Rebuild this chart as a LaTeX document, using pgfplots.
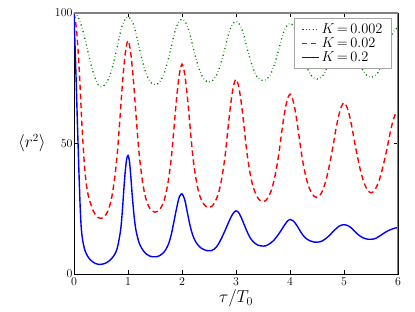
\documentclass[border=0pt]{standalone}
\usepackage{pgfplots}
\usepackage{pgfplotstable}
\pgfplotsset{compat=1.18}

\pgfplotstableread{
t g r
0 100 100
0.05 99.3 93
0.1 97.3 77
0.15 94.2 56
0.2 90.3 40
0.25 85.9 31.5
0.3 81.5 27.5
0.35 77.6 24.5
0.4 74.5 22.6
0.45 72.5 21.6
0.5 71.8 21.3
0.55 72.1 21.7
0.6 73.3 23.0
0.65 75.3 25.4
0.7 78.5 29.5
0.75 82.5 36.3
0.8 87.0 45.8
0.85 91.8 59.4
0.9 95.6 73.7
0.95 97.7 84.6
1.0 98.5 89.4
1.05 97.7 84.8
1.1 95.7 74.3
1.15 92.0 60.5
1.2 87.4 47.4
1.25 83.0 38.2
1.3 79.1 31.6
1.35 76.0 27.6
1.4 74.0 25.3
1.45 72.9 24.1
1.5 72.6 23.7
1.55 72.9 24.0
1.6 74.0 25.1
1.65 75.9 27.1
1.7 78.9 30.5
1.75 82.6 36.2
1.8 86.9 44.1
1.85 91.4 55.5
1.9 94.9 67.4
1.95 96.9 76.4
2.0 97.6 80.4
2.05 96.9 76.6
2.1 95.0 67.8
2.15 91.6 56.2
2.2 87.3 45.3
2.25 83.2 37.6
2.3 79.6 32.1
2.35 76.7 28.8
2.4 74.9 26.9
2.45 73.9 25.8
2.5 73.6 25.5
2.55 73.9 25.9
2.6 74.9 27.2
2.65 76.6 29.4
2.7 79.4 32.9
2.75 82.9 38.3
2.8 86.8 45.6
2.85 91.0 55.5
2.9 94.2 64.8
2.95 96.1 71.7
3.0 96.8 74.6
3.05 96.1 71.8
3.1 94.3 65.2
3.15 91.1 56.3
3.2 87.0 46.9
3.25 83.2 39.9
3.3 79.8 34.7
3.35 77.1 31.5
3.4 75.3 29.3
3.45 74.4 28.1
3.5 74.1 27.7
3.55 74.4 28.1
3.6 75.3 29.6
3.65 76.9 31.8
3.7 79.6 35.5
3.75 82.9 40.5
3.8 86.6 47.1
3.85 90.5 54.9
3.9 93.6 61.9
3.95 95.3 66.8
4.0 96.0 68.9
4.05 95.4 66.9
4.1 93.7 62.2
4.15 90.7 55.4
4.2 86.8 47.9
4.25 83.2 41.6
4.3 80.0 36.8
4.35 77.5 33.3
4.4 75.9 31.1
4.45 75.0 29.7
4.5 74.7 29.3
4.55 75.0 30.0
4.6 75.8 31.8
4.65 77.4 34.7
4.7 79.8 38.7
4.75 82.9 43.8
4.8 86.4 49.3
4.85 90.1 55.4
4.9 92.9 60.5
4.95 94.6 64.1
5.0 95.2 65.6
5.05 94.6 64.2
5.1 93.0 60.8
5.15 90.3 55.9
5.2 86.7 50.1
5.25 83.3 44.9
5.3 80.4 40.1
5.35 78.0 36.3
5.4 76.5 33.5
5.45 75.6 31.8
5.5 75.4 31.1
5.55 75.6 31.7
5.6 76.4 33.3
5.65 77.9 35.8
5.7 80.1 39.3
5.75 83.0 43.7
5.8 86.2 48.4
5.85 89.6 53.7
5.9 92.2 58.1
5.95 93.7 61.2
6.0 94.3 62.5
}\greenred

\pgfplotstableread{
t b
0 100
0.02 87
0.04 74
0.06 60
0.075 50
0.09 40
0.1 34
0.11 28
0.12 23
0.135 17.5
0.16 13
0.2 9.2
0.25 6.9
0.3 5.5
0.35 4.6
0.4 4.0
0.45 3.7
0.5 3.7
0.55 3.9
0.6 4.3
0.65 5.0
0.7 6.0
0.75 7.4
0.8 9.8
0.85 15
0.875 19
0.9 25.5
0.925 33
0.95 39.5
0.975 44
1.0 45.4
1.025 43.5
1.05 38
1.075 31
1.1 25
1.125 20
1.15 16.5
1.2 12.3
1.25 10
1.3 8.5
1.35 7.5
1.4 6.9
1.45 6.6
1.5 6.6
1.55 6.7
1.6 7.2
1.65 8.0
1.7 9.4
1.75 11.5
1.8 15
1.85 20
1.9 25.2
1.95 29.5
2.0 30.7
2.05 28.5
2.1 23.5
2.15 18.5
2.2 14.8
2.25 12.5
2.3 11
2.35 10
2.4 9.4
2.45 9.0
2.5 8.9
2.55 9.0
2.6 9.6
2.65 10.7
2.7 12.4
2.75 14.5
2.8 16.8
2.85 19.2
2.9 21.5
2.95 23.3
3.0 24.2
3.05 23.5
3.1 21.5
3.15 19
3.2 16.5
3.25 14.3
3.3 12.8
3.35 11.8
3.4 11.1
3.45 10.8
3.5 10.7
3.55 10.8
3.6 11.3
3.65 12
3.7 12.9
3.75 14.2
3.8 15.6
3.85 17.2
3.9 18.8
3.95 20.2
4.0 20.9
4.05 20.5
4.1 19.4
4.15 17.8
4.2 16.1
4.25 14.6
4.3 13.6
4.35 12.9
4.4 12.5
4.45 12.2
4.5 12.2
4.55 12.3
4.6 12.7
4.65 13.4
4.7 14.2
4.75 15.2
4.8 16.3
4.85 17.3
4.9 18.2
4.95 18.7
5.0 18.9
5.05 18.7
5.1 18.2
5.15 17.4
5.2 16.3
5.25 15.3
5.3 14.5
5.35 13.9
5.4 13.5
5.45 13.3
5.5 13.3
5.55 13.4
5.6 13.8
5.65 14.4
5.7 15.1
5.75 15.8
5.8 16.4
5.85 16.9
5.9 17.3
5.95 17.6
6.0 17.8
}\blue

\begin{document}
\begin{tikzpicture}
\begin{axis}[
  scale only axis, width=324bp, height=261bp,
  xmin=0, xmax=6, ymin=0, ymax=100,
  xtick={0,1,2,3,4,5,6}, ytick={0,50,100},
  tick align=inside, major tick length=4bp,
  tick style={black, line width=0.5bp},
  axis line style={line width=0.7bp},
  ticklabel style={font=\fontsize{11.5}{13}\selectfont},
  yticklabel style={xshift=2bp},
  xlabel={$\tau/T_0$},
  xlabel style={font=\fontsize{17}{20}\selectfont, yshift=2bp},
  ylabel={$\langle r^2\rangle$},
  every axis y label/.style={at={(rel axis cs:0,0.5)}, anchor=east, xshift=-25bp, font=\fontsize{16}{19}\selectfont},
  legend style={at={(rel axis cs:0.981,0.98)}, anchor=north east,
    draw=gray!70, line width=0.6bp, fill=white,
    font=\fontsize{14.5}{15}\selectfont, inner xsep=7bp, inner ysep=3.5bp,
    row sep=-1.5bp,
    /tikz/every even column/.append style={column sep=2bp}},
  legend cell align=left,
]
\addplot[color={rgb,1:red,0;green,0.5;blue,0}, line width=1.3bp,
  dash pattern=on 1.2bp off 2.6bp on 0.5bp off 2.6bp, smooth]
  table[x=t, y=g] {\greenred};
\addlegendentry{$K$\,=\,0.002}
\addplot[color=red, line width=1.4bp, dash pattern=on 5.5bp off 3.5bp, smooth]
  table[x=t, y=r] {\greenred};
\addlegendentry{$K$\,=\,0.02}
\addplot[color=blue, line width=1.4bp, smooth]
  table[x=t, y=b] {\blue};
\addlegendentry{$K$\,=\,0.2}
\draw[gray, line width=1.5bp] (rel axis cs:0,1) -- (rel axis cs:1,1) -- (rel axis cs:1,0);
\end{axis}
\pgfresetboundingbox
\path ([shift={(-74bp,-38bp)}]current axis.south west) rectangle ([shift={(17bp,13bp)}]current axis.north east);
\end{tikzpicture}
\end{document}
